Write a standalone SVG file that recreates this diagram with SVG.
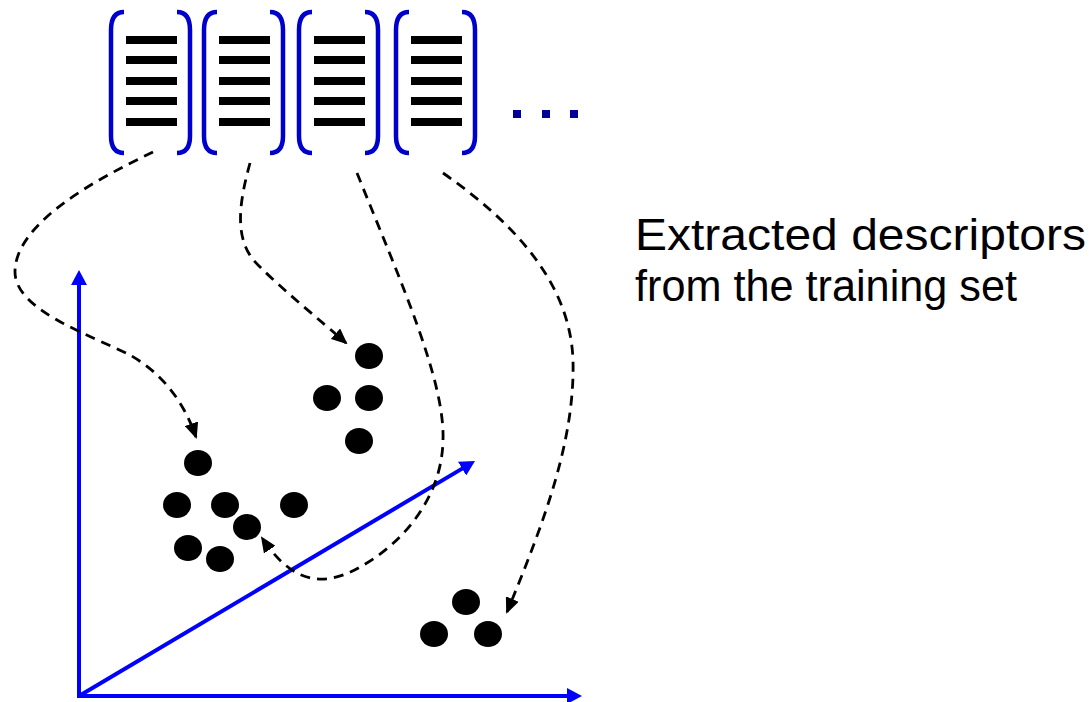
<svg xmlns="http://www.w3.org/2000/svg" width="1089" height="702" viewBox="0 0 1089 702">
<style>
.br{fill:none;stroke:#0000CC;stroke-width:4.5;stroke-linecap:butt}
.bar{fill:#000}
.dot{fill:#000}
.axis{fill:none;stroke:#0000FF;stroke-width:4}
.dash{fill:none;stroke:#000;stroke-width:2.8;stroke-dasharray:10 7}
.lbl{font-family:"Liberation Sans",Arial,sans-serif;font-size:44px;fill:#000}
</style>
<defs>
<marker id="ab" markerUnits="userSpaceOnUse" markerWidth="16" markerHeight="16" viewBox="0 0 16 16" refX="5" refY="8" orient="auto">
<path d="M0,0 L15,8 L0,16 Z" fill="#0000FF"/>
</marker>
<marker id="ak" markerUnits="userSpaceOnUse" markerWidth="16" markerHeight="14" viewBox="0 0 16 14" refX="14" refY="7" orient="auto">
<path d="M0,0 L16,7 L0,14 Z" fill="#000"/>
</marker>
<g id="vec">
<path class="br" d="M13,12 C3,12 0,20 0,30 V136 C0,146 3,153 13,153"/>
<path class="br" d="M66,12 C76,12 79,20 79,30 V136 C79,146 76,153 66,153"/>
<rect class="bar" x="15" y="36" width="51" height="8"/>
<rect class="bar" x="15" y="56" width="51" height="8"/>
<rect class="bar" x="15" y="77" width="51" height="8"/>
<rect class="bar" x="15" y="97" width="51" height="8"/>
<rect class="bar" x="15" y="118" width="51" height="8"/>
</g>
</defs>
<g id="vector1"><use href="#vec" x="111" y="0"/></g>
<g id="vector2"><use href="#vec" x="204" y="0"/></g>
<g id="vector3"><use href="#vec" x="299" y="0"/></g>
<g id="vector4"><use href="#vec" x="396" y="0"/></g>
<g id="ellipsis" fill="#000099">
<rect x="513" y="110" width="8" height="8"/>
<rect x="542" y="110" width="8" height="8"/>
<rect x="570" y="110" width="8" height="8"/>
</g>
<g id="axes">
<path class="axis" d="M79,698 V280" marker-end="url(#ab)"/>
<path class="axis" d="M77,696 H572" marker-end="url(#ab)"/>
<path class="axis" d="M79,696 L466.4,466.1" marker-end="url(#ab)"/>
</g>
<g id="cluster1">
<ellipse class="dot" cx="198" cy="463" rx="14" ry="13"/>
<ellipse class="dot" cx="177" cy="505" rx="14" ry="13"/>
<ellipse class="dot" cx="225" cy="505" rx="14" ry="13"/>
<ellipse class="dot" cx="294" cy="505" rx="14" ry="13"/>
<ellipse class="dot" cx="247" cy="527" rx="14" ry="13"/>
<ellipse class="dot" cx="188" cy="548" rx="14" ry="13"/>
<ellipse class="dot" cx="220" cy="559" rx="14" ry="13"/>
</g>
<g id="cluster2">
<ellipse class="dot" cx="369" cy="356" rx="14" ry="13"/>
<ellipse class="dot" cx="327" cy="398" rx="14" ry="13"/>
<ellipse class="dot" cx="369" cy="398" rx="14" ry="13"/>
<ellipse class="dot" cx="359" cy="441" rx="14" ry="13"/>
</g>
<g id="cluster3">
<ellipse class="dot" cx="466" cy="602" rx="14" ry="13"/>
<ellipse class="dot" cx="434" cy="634" rx="14" ry="13"/>
<ellipse class="dot" cx="488" cy="634" rx="14" ry="13"/>
</g>
<g id="connectors">
<path class="dash" d="M153,152 C90,182 15,225 15,272 C15,310 90,335 130,355 C165,375 185,405 196,437" marker-end="url(#ak)"/>
<path class="dash" d="M250,163 C240,200 232,240 258,265 C285,292 320,320 346,343" marker-end="url(#ak)"/>
<path class="dash" d="M357,173 C400,280 445,380 443,440 C442,500 400,545 360,567 C320,590 290,580 262,538" marker-end="url(#ak)"/>
<path class="dash" d="M443,173 C510,220 570,280 573,360 C575,440 545,520 507,612" marker-end="url(#ak)"/>
</g>
<g id="label">
<text class="lbl" x="635" y="250" textLength="451" lengthAdjust="spacingAndGlyphs">Extracted descriptors</text>
<text class="lbl" x="635" y="301" textLength="382" lengthAdjust="spacingAndGlyphs">from the training set</text>
</g>
</svg>
